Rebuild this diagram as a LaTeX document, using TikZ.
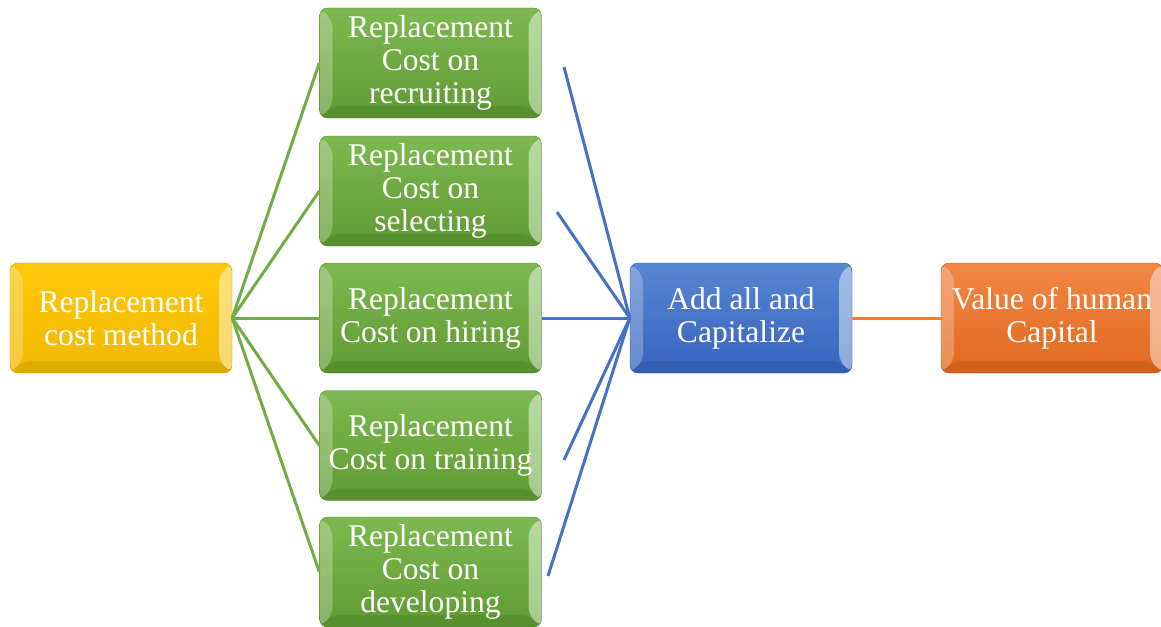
\documentclass[tikz,border=0pt]{standalone}
\usepackage{fontspec}
\setmainfont{Liberation Serif}
\definecolor{yellow1}{RGB}{255, 200, 10}
\definecolor{yellow2}{RGB}{240, 185, 0}
\definecolor{green1}{RGB}{125, 185, 80}
\definecolor{green2}{RGB}{95, 155, 50}
\definecolor{blue1}{RGB}{88, 134, 210}
\definecolor{blue2}{RGB}{55, 100, 190}
\definecolor{orange1}{RGB}{242, 135, 70}
\definecolor{orange2}{RGB}{225, 105, 30}
\definecolor{greenline}{RGB}{112, 173, 71}
\definecolor{blueline}{RGB}{68, 114, 196}
\definecolor{orangeline}{RGB}{237, 125, 49}
\usetikzlibrary{positioning, calc}

\begin{document}
\begin{tikzpicture}[x=1pt, y=-1pt,
  box/.style={rounded corners=8pt, minimum width=222pt, minimum height=110pt,
    inner sep=0pt, align=center, text=white,
    font=\fontsize{31.6}{33}\selectfont,
    path picture={
      \fill[white, opacity=.25] (path picture bounding box.north west)
        -- ([xshift=13pt, yshift=-12pt]path picture bounding box.north west)
        -- ([xshift=13pt, yshift=12pt]path picture bounding box.south west)
        -- (path picture bounding box.south west) -- cycle;
      \fill[white, opacity=.45] (path picture bounding box.north east)
        -- ([xshift=-13pt, yshift=-12pt]path picture bounding box.north east)
        -- ([xshift=-13pt, yshift=12pt]path picture bounding box.south east)
        -- (path picture bounding box.south east) -- cycle;
      \fill[black, opacity=.08] (path picture bounding box.south west)
        -- ([xshift=13pt, yshift=12pt]path picture bounding box.south west)
        -- ([xshift=-13pt, yshift=12pt]path picture bounding box.south east)
        -- (path picture bounding box.south east) -- cycle;
    }},
  ybox/.style={box, top color=yellow1, bottom color=yellow2, draw=yellow2!85!black},
  gbox/.style={box, top color=green1, bottom color=green2, draw=green2!85!black},
  bbox/.style={box, top color=blue1, bottom color=blue2, draw=blue2!85!black},
  obox/.style={box, top color=orange1, bottom color=orange2, draw=orange2!85!black},
  link/.style={line width=3pt}]

  \useasboundingbox (0,0) rectangle (1161,626);

  % boxes
  \node[ybox] (method) at (121,318) {Replacement\\cost method};
  \node[gbox] (recruit) at (430.5,63) {Replacement\\Cost on\\recruiting};
  \node[gbox] (select) at (430.5,191) {Replacement\\Cost on\\selecting};
  \node[gbox] (hire) at (430.5,318) {Replacement\\Cost on hiring};
  \node[gbox] (train) at (430.5,445.5) {Replacement\\Cost on training};
  \node[gbox] (develop) at (430.5,572) {Replacement\\Cost on\\developing};
  \node[bbox] (capital) at (741,318) {Add all and\\Capitalize};
  \node[obox] (value) at (1052,318) {Value of human\\Capital};

  % loose ends of the blue lines
  \coordinate (r1) at (564,67);
  \coordinate (s1) at (557,212);
  \coordinate (t1) at (564,460);
  \coordinate (d1) at (548,576);

  % connectors
  \foreach \n in {recruit, select, hire, train, develop}
    \draw[link, greenline] (method.east) -- (\n.west);
  \foreach \c in {r1, s1, t1, d1}
    \draw[link, blueline] (\c) -- (capital.west);
  \draw[link, blueline] (hire.east) -- (capital.west);
  \draw[link, orangeline] (capital.east) -- (value.west);
\end{tikzpicture}
\end{document}
